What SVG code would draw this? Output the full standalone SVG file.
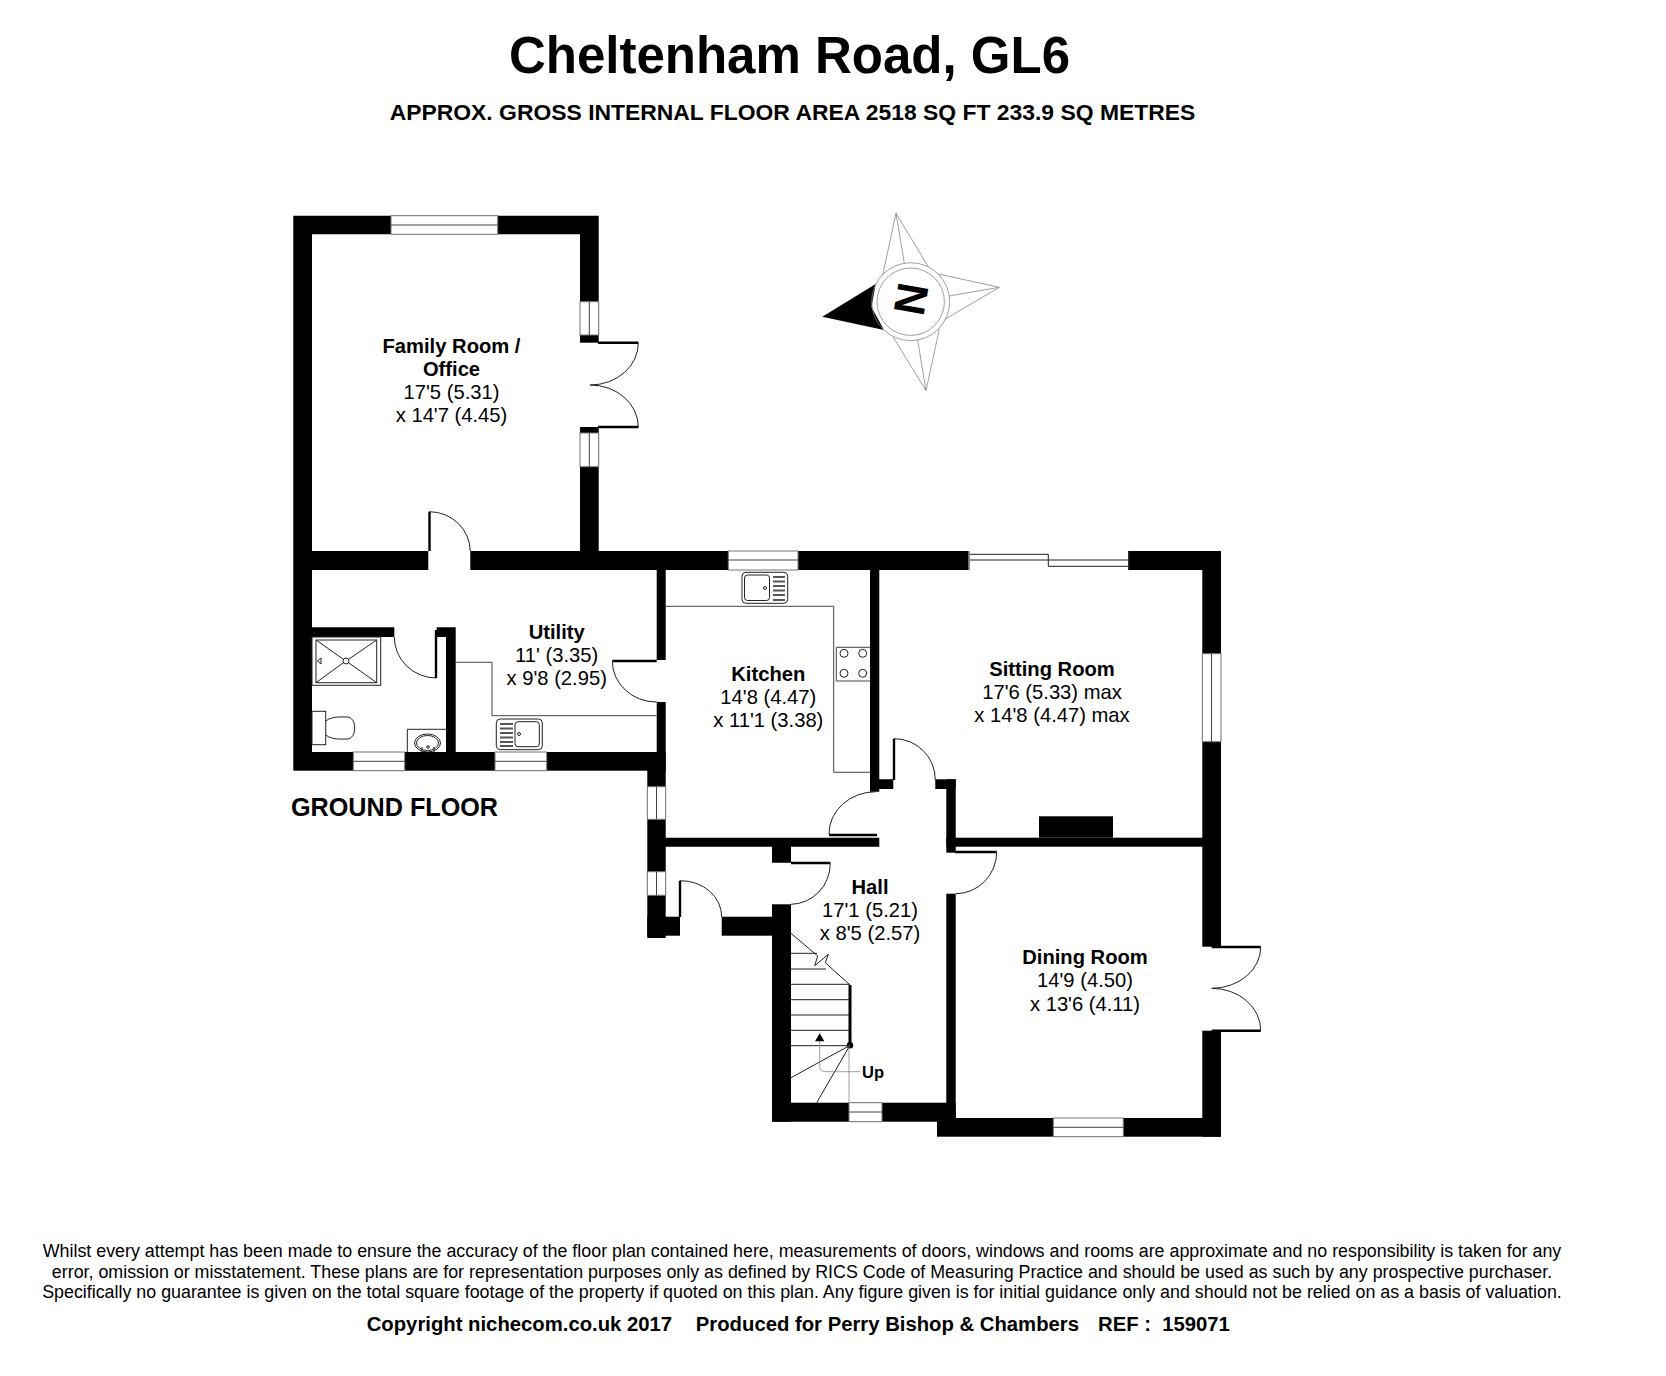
<svg xmlns="http://www.w3.org/2000/svg" width="1666" height="1376" viewBox="0 0 1666 1376">
<style>
text{font-family:"Liberation Sans",Arial,sans-serif;fill:#000;text-anchor:middle}
.rn{font-weight:700;font-size:20.2px}
.dim{font-size:20.2px}
.w{fill:#000}
.win{fill:#fff;stroke:#777;stroke-width:1}
.thin{fill:none;stroke:#222;stroke-width:1}
.gr{fill:none;stroke:#444;stroke-width:1}
.cp{fill:none;stroke:#888;stroke-width:.8}
.leaf{fill:none;stroke:#000;stroke-width:2.4}
.foot{font-size:17.85px}
</style>
<rect width="1666" height="1376" fill="#fff"/>
<text x="789.5" y="73" font-size="51" font-weight="700">Cheltenham Road, GL6</text>
<text x="792.500" y="119.800" font-size="22.900" font-weight="700">APPROX. GROSS INTERNAL FLOOR AREA 2518 SQ FT 233.9 SQ METRES</text>
<g id="walls">
<path class="w" d="M293.3 215.7H598.7V551H968.3V570H879.3V779.3H893.3V789H879.3V791.7H870V570H665.7V660H656.7V570H312V627.3H394.3V637H312V752H446V637H436.7V627.3H455.7V752H656.7V702H665.7V837.7H879.3V846.7H791V862.7H772V846.7H665.7V938H647.3V752H293.3Z M312 234.3V551H580V234.3Z" fill-rule="evenodd"/>
<rect class="w" x="293.3" y="752" width="372.4" height="18.7"/>
<rect class="w" x="647.3" y="916.700" width="32.700" height="19"/>
<rect class="w" x="721.7" y="916.7" width="69.3" height="19"/>
<rect class="w" x="772" y="904.3" width="19" height="217.4"/>
<rect class="w" x="772" y="1102.7" width="183.7" height="19"/>
<rect class="w" x="946.3" y="779.3" width="9.4" height="73.4"/>
<rect class="w" x="935.3" y="779.3" width="20.4" height="9.7"/>
<rect class="w" x="946.3" y="893.7" width="9.4" height="228"/>
<rect class="w" x="946.3" y="837.7" width="274.7" height="9"/>
<rect class="w" x="1039" y="816.3" width="74" height="21.4"/>
<rect class="w" x="1128.3" y="551" width="92.7" height="19"/>
<rect class="w" x="1202.3" y="551" width="18.7" height="395.7"/>
<rect class="w" x="1202.3" y="1030.7" width="18.7" height="106"/>
<rect class="w" x="937" y="1118" width="284" height="18.7"/>
</g>
<g id="openings">
<rect x="428.3" y="549" width="42" height="22" fill="#fff"/>
<rect class="win" x="391" y="215.7" width="106.7" height="18.6"/><path class="gr" d="M391 225H497.7"/>
<rect class="win" x="580" y="301.7" width="18.7" height="33.3"/><path class="gr" d="M589.3 301.7V335"/>
<rect x="579" y="342.7" width="20.7" height="84.3" fill="#fff"/>
<rect class="win" x="580" y="433" width="18.7" height="33.7"/><path class="gr" d="M589.3 433V466.7"/>
<rect class="win" x="353.3" y="752" width="51.4" height="18.7"/><path class="gr" d="M353.3 761.3H404.7"/>
<rect class="win" x="495" y="752" width="51.7" height="18.7"/><path class="gr" d="M495 761.3H546.7"/>
<rect class="win" x="647.3" y="786.7" width="18.4" height="32.6"/><path class="gr" d="M656.5 786.7V819.3"/>
<rect class="win" x="647.3" y="871.7" width="18.4" height="23.6"/><path class="gr" d="M656.5 871.7V895.3"/>
<rect class="win" x="728.3" y="551" width="69.7" height="19"/><path class="gr" d="M728.3 560H798"/>
<rect class="win" x="1202.3" y="653.7" width="18.7" height="88"/><path class="gr" d="M1211.5 653.7V741.7"/>
<rect class="win" x="849" y="1102.7" width="33" height="19"/><path class="gr" d="M849 1112H882"/>
<rect class="win" x="1053.3" y="1118" width="70" height="18.7"/><path class="gr" d="M1053.3 1127.3H1123.3"/>
</g>
<g id="doors">
<path class="leaf" d="M429.5 551V511.7"/><path class="thin" d="M429.5 511.7A41 40 0 0 1 470.3 551"/>
<path class="leaf" d="M598 342.7H638.3"/><path class="thin" d="M638.3 342.7A48 42 0 0 1 590 385A48 42 0 0 1 638.3 427"/><path class="leaf" d="M598 427H638.3"/>
<path class="leaf" d="M436 678V630"/><path class="thin" d="M394.3 637A42 41 0 0 0 436 678"/>
<path class="leaf" d="M612.3 661H656.7"/><path class="thin" d="M612.3 661A44 41 0 0 0 656.7 702"/>
<path class="leaf" d="M829 835H877"/><path class="thin" d="M829 834A47 42 0 0 1 876 791.7"/>
<path class="leaf" d="M894 780V738.7"/><path class="thin" d="M894 738.7A41 41 0 0 1 935.3 780"/>
<path class="leaf" d="M791 863H830.3"/><path class="thin" d="M830.3 863A40 41 0 0 1 791 904.3"/>
<path class="leaf" d="M680 917V880.7"/><path class="thin" d="M680 880.7A41 36 0 0 1 721.7 917"/>
<path class="leaf" d="M955 852H996.7"/><path class="thin" d="M996.7 852A41 42 0 0 1 955.7 893.7"/>
<path class="leaf" d="M1211.7 947H1260.7"/><path class="thin" d="M1260.7 947A49 41 0 0 1 1211.7 988.3A49 42 0 0 1 1260.7 1030.7"/><path class="leaf" d="M1211.7 1030.7H1260.7"/>
<path class="thin" d="M969 551V570M969.8 554.3H1048.3V566.3H1128.3M969.8 560H1128.3M1128.8 551V570"/>
</g>
<g id="fixtures">
<rect class="thin" x="312" y="637" width="68.7" height="48.3"/>
<rect class="thin" x="316" y="640" width="60.7" height="42.7"/>
<path class="thin" d="M316 640L343 659M376.7 640L349 659M316 682.7L343 663M376.7 682.7L349 663"/>
<circle class="thin" cx="346" cy="661" r="3"/>
<path class="thin" d="M317.500 661L321 658V664Z"/>
<rect class="thin" x="312" y="711.300" width="13.700" height="33.400"/>
<path class="thin" d="M325.700 721C332 716 342 717 347 717C352 717 354.700 722 354.700 728C354.700 734 352 739 347 739C342 739 332 740 325.700 735"/>
<path class="thin" d="M446 729.300H407.300V752"/>
<ellipse class="thin" cx="427.500" cy="743" rx="13" ry="9"/><ellipse class="thin" cx="427.500" cy="743" rx="11" ry="7.500"/>
<circle class="thin" cx="428" cy="747" r="1.300"/><path class="thin" d="M422 752V747M434 752V747"/>
<path class="gr" d="M455.700 662.300H492V715.700H656.700"/>
<rect class="thin" x="496.300" y="719" width="46" height="30.700" rx="4"/>
<rect class="thin" x="515" y="721.700" width="24.300" height="25" rx="3"/>
<circle class="thin" cx="519" cy="734" r="1.500"/>
<path d="M500 724H513M500 728.500H513M500 733H513M500 737.500H513M500 742H513M500 746H513" fill="none" stroke="#555" stroke-width="1.800"/>
<path class="gr" d="M665.700 606.300H833.700V772.300H870"/>
<rect class="thin" x="742" y="572.300" width="45.700" height="31" rx="4"/>
<rect class="thin" x="744.500" y="575" width="25" height="25.500" rx="3"/>
<circle class="thin" cx="765" cy="588" r="1.500"/>
<path d="M773 577H785M773 581.500H785M773 586H785M773 590.500H785M773 595H785M773 600H785" fill="none" stroke="#555" stroke-width="1.800"/>
<path class="gr" d="M870 647.300H836.300V681H870"/>
<g class="thin"><circle cx="844" cy="653.300" r="4"/><circle cx="862.700" cy="653.300" r="4"/><circle cx="844" cy="673.300" r="4"/><circle cx="862.700" cy="673.300" r="4"/></g>
</g>
<g id="stairs">
<path class="thin" d="M791 933.300L817.700 956L814.700 965.700L828.300 954.300L825.300 962.700L850 985"/>
<path class="thin" d="M791 953.300H817M791 969H826M791 984.300H850M791 999.700H850M791 1015H850M791 1030.300H850M791 1045.700H850M850 1045.300L791 1077.700M850 1045.300L816.700 1102.700"/>
<path d="M850 985V1045" fill="none" stroke="#000" stroke-width="3"/>
<circle cx="850" cy="1045.300" r="3.200"/>
<path class="cp" d="M849 1045V1103"/>
<path d="M819.700 1033.300L824.300 1041.300H815Z"/>
<path class="cp" d="M819.700 1041V1066Q819.700 1071.700 826 1071.700H860"/>
<text x="873" y="1078" font-size="16.500" font-weight="700">Up</text>
</g>
<g id="compass">
<path d="M822.300 316.700L875.700 284L871.500 307L884 330Z"/>
<path class="cp" d="M882.700 275L896 213.300L928.300 266.700M896 213.300L904.300 263.300M938.300 274L999.300 287.300L945 319.300M999.300 287.300L949.300 296M893.300 337.300L926 390.700L939.300 329.300M926 390.700L917.700 340"/>
<circle class="cp" cx="910.700" cy="301.700" r="39"/>
<circle class="cp" cx="910.700" cy="301.700" r="33.700"/>
<text font-size="44" font-weight="700" transform="translate(926 301.500) rotate(-80)" x="0" y="0">N</text>
</g>
<g id="rooms">
<text class="rn" x="451.500" y="352.700">Family Room /</text><text class="rn" x="451.500" y="375.700">Office</text>
<text class="dim" x="451.500" y="398.700">17'5 (5.31)</text><text class="dim" x="451.500" y="421.700">x 14'7 (4.45)</text>
<text class="rn" x="556.700" y="638.500">Utility</text><text class="dim" x="556.700" y="661.500">11' (3.35)</text><text class="dim" x="556.700" y="684.500">x 9'8 (2.95)</text>
<text class="rn" x="768.300" y="681">Kitchen</text><text class="dim" x="768.300" y="704">14'8 (4.47)</text><text class="dim" x="768.300" y="727">x 11'1 (3.38)</text>
<text class="rn" x="1052" y="675.700">Sitting Room</text><text class="dim" x="1052" y="698.700">17'6 (5.33) max</text><text class="dim" x="1052" y="721.700">x 14'8 (4.47) max</text>
<text class="rn" x="1085" y="964.300">Dining Room</text><text class="dim" x="1085" y="987.300">14'9 (4.50)</text><text class="dim" x="1085" y="1010.500">x 13'6 (4.11)</text>
<text class="rn" x="870" y="894">Hall</text><text class="dim" x="870" y="917">17'1 (5.21)</text><text class="dim" x="870" y="940">x 8'5 (2.57)</text>
<text x="394.500" y="815.700" font-size="25.200" font-weight="700">GROUND FLOOR</text>
</g>
<g id="footer">
<text class="foot" x="802" y="1257">Whilst every attempt has been made to ensure the accuracy of the floor plan contained here, measurements of doors, windows and rooms are approximate and no responsibility is taken for any</text>
<text class="foot" x="802" y="1277.500">error, omission or misstatement. These plans are for representation purposes only as defined by RICS Code of Measuring Practice and should be used as such by any prospective purchaser.</text>
<text class="foot" x="802" y="1298">Specifically no guarantee is given on the total square footage of the property if quoted on this plan. Any figure given is for initial guidance only and should not be relied on as a basis of valuation.</text>
<text y="1330.700" font-size="20.300" font-weight="700" xml:space="preserve" style="text-anchor:start"><tspan x="366.700">Copyright nichecom.co.uk 2017</tspan><tspan x="695.800">Produced for Perry Bishop &amp; Chambers</tspan><tspan x="1098">REF :  159071</tspan></text>
</g>
</svg>
